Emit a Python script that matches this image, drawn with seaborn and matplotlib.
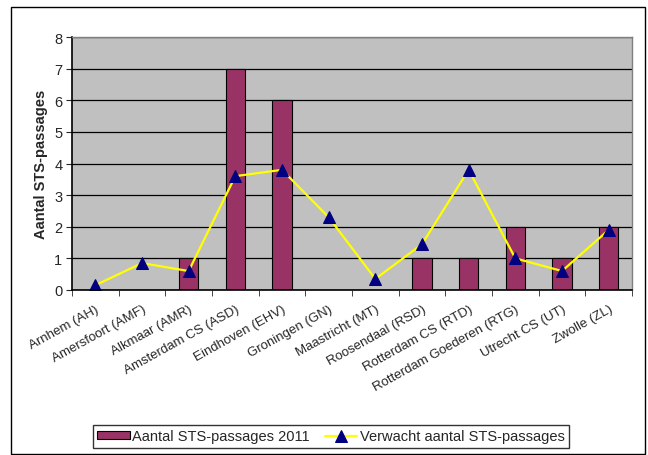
import matplotlib
matplotlib.use("Agg")
import matplotlib.pyplot as plt
import seaborn as sns
import pandas as pd
from matplotlib.patches import Rectangle

stations = ["Arnhem (AH)", "Amersfoort (AMF)", "Alkmaar (AMR)", "Amsterdam CS (ASD)",
            "Eindhoven (EHV)", "Groningen (GN)", "Maastricht (MT)", "Roosendaal (RSD)",
            "Rotterdam CS (RTD)", "Rotterdam Goederen (RTG)", "Utrecht CS (UT)", "Zwolle (ZL)"]
passages_2011 = [0, 0, 1, 7, 6, 0, 0, 1, 1, 2, 1, 2]
expected = [0.15, 0.85, 0.6, 3.6, 3.8, 2.3, 0.35, 1.45, 3.8, 1.0, 0.6, 1.9]

df = pd.DataFrame({"station": stations, "count": passages_2011, "expected": expected})

sns.set_style("white")
plt.rcParams["font.family"] = ["Liberation Sans", "DejaVu Sans"]

fig = plt.figure(figsize=(6.48, 4.56), dpi=100)
ax = fig.add_axes([72 / 648, 1 - 291 / 456, (632 - 72) / 648, (291 - 38) / 456])

# outer chart frame
fig.patches.append(Rectangle((11 / 648, 1 / 456), (645 - 11) / 648, (448 - 1) / 456,
                             transform=fig.transFigure, fill=False, edgecolor="black", lw=1))

ax.set_facecolor("#C0C0C0")
ax.set_axisbelow(True)
ax.yaxis.grid(True, color="black", lw=0.9)

sns.barplot(data=df, x="station", y="count", color="#993366", edgecolor="black",
            linewidth=0.8, width=0.42, saturation=1, ax=ax,
            label="Aantal STS-passages 2011")
sns.lineplot(data=df, x="station", y="expected", sort=False, color="#FFFF00", lw=1.6,
             marker="^", markersize=9, markerfacecolor="#000080", markeredgecolor="#000080",
             ax=ax, label="Verwacht aantal STS-passages")

ax.set_ylim(0, 8)
ax.set_xlim(-0.5, len(stations) - 0.5)
ax.set_yticks(range(0, 9))
ax.tick_params(axis="y", labelsize=10.5, length=4, direction="out", left=True, pad=3)
ax.set_xticks(range(len(stations)))
ax.set_xticklabels(stations, rotation=29, ha="right", rotation_mode="anchor", fontsize=9.5)
ax.tick_params(axis="x", length=0, pad=9)
ax.set_xticks([i - 0.5 for i in range(len(stations) + 1)], minor=True)
ax.tick_params(axis="x", which="minor", length=4, direction="out", bottom=True)
ax.set_xlabel("")
ax.set_ylabel("Aantal STS-passages", fontsize=10.5, fontweight="bold", labelpad=4)

for side in ["left", "bottom"]:
    ax.spines[side].set_color("black")
    ax.spines[side].set_linewidth(1.2)
for side in ["top", "right"]:
    ax.spines[side].set_color("#808080")
    ax.spines[side].set_linewidth(1.0)

handles, labels = ax.get_legend_handles_labels()
order = [labels.index("Aantal STS-passages 2011"), labels.index("Verwacht aantal STS-passages")]
leg = fig.legend([handles[i] for i in order], [labels[i] for i in order], loc="center",
                 bbox_to_anchor=(331 / 648, 1 - 437.5 / 456), ncol=2, fontsize=10.5,
                 frameon=True, fancybox=False, edgecolor="black", handlelength=2.2,
                 handleheight=0.5, columnspacing=1.0, handletextpad=0.2, borderpad=0.3)
leg.get_frame().set_linewidth(1.0)
if ax.get_legend() is not None:
    ax.get_legend().remove()

fig.savefig("out.png", dpi=100)
